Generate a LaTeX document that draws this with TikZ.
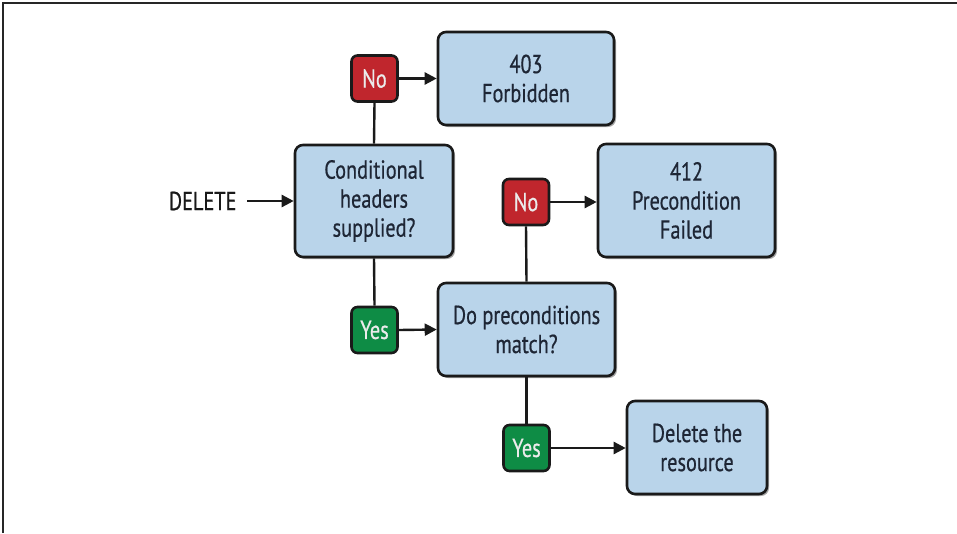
\documentclass[tikz,border=0pt]{standalone}
\usepackage{fontspec}
\setmainfont[FakeStretch=0.78,FakeBold=0.6]{PT Sans}
\usetikzlibrary{arrows.meta,shadows}
\definecolor{boxfill}{HTML}{B9D4EA}
\definecolor{boxtext}{HTML}{1E2635}
\definecolor{nored}{HTML}{C0262D}
\definecolor{yesgreen}{HTML}{0E8C45}
\definecolor{edge}{HTML}{1A1A1A}
\tikzset{
  x=1pt, y=-1pt,
  every node/.style={font=\fontsize{26}{29}\selectfont},
  bigbox/.style={draw=edge, line width=2.6pt, fill=boxfill, rounded corners=8pt,
    align=center, text=boxtext, inner sep=0pt,
    drop shadow={shadow xshift=2pt, shadow yshift=-2pt, opacity=0.35, fill=black}},
  decision/.style={draw=edge, line width=2.6pt, rounded corners=6pt,
    minimum width=46pt, minimum height=46pt, inner sep=0pt, text=white!92!black},
  nobox/.style={decision, fill=nored},
  yesbox/.style={decision, fill=yesgreen},
  conn/.style={draw=edge, line width=2.4pt},
  arr/.style={conn, -{Triangle[length=12pt,width=12pt]}},
}
\begin{document}
\begin{tikzpicture}
\useasboundingbox (0,0) rectangle (957,533);
\draw[line width=1.6pt, draw=black!85] (3,533) -- (3,3) -- (957,3);

\node[anchor=east, text=black!90] (del) at (240,201) {DELETE};
\node[bigbox, minimum width=158pt, minimum height=112pt] (cond) at (374,201) {Conditional\\headers\\supplied?};
\node[bigbox, minimum width=176pt, minimum height=93pt] (forb) at (526,78.5) {403\\Forbidden};
\node[nobox] (no1) at (374.5,78.5) {No};
\node[yesbox] (yes1) at (374.5,330) {Yes};
\node[bigbox, minimum width=177pt, minimum height=93pt] (pre) at (526.5,329.5) {Do preconditions\\match?};
\node[nobox] (no2) at (526,202) {No};
\node[bigbox, minimum width=177pt, minimum height=113pt] (f412) at (686.5,200.5) {412\\Precondition\\Failed};
\node[yesbox] (yes2) at (526.5,448) {Yes};
\node[bigbox, minimum width=140pt, minimum height=93pt] (delr) at (697,447.5) {Delete the\\resource};

\draw[arr] (del.east) ++(7pt,0) coordinate (d0) (d0) -- (cond.west);
\draw[conn] (cond.north) -- (no1.south);
\draw[arr] (no1.east) -- (forb.west);
\draw[conn] (cond.south) -- (yes1.north);
\draw[arr] (yes1.east) -- (pre.west);
\draw[conn] (pre.north) -- (no2.south);
\draw[arr] (no2.east) -- (f412.west |- no2.east);
\draw[conn] (pre.south) -- (yes2.north);
\draw[arr] (yes2.east) -- (delr.west |- yes2.east);
\end{tikzpicture}
\end{document}
